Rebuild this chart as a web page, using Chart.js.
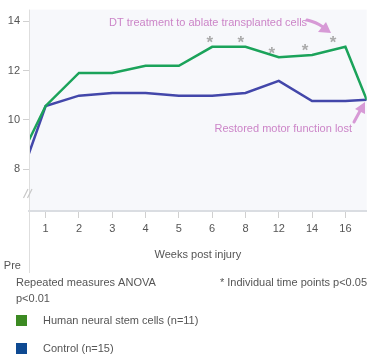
<!DOCTYPE html>
<html><head><meta charset="utf-8">
<script src="https://cdn.jsdelivr.net/npm/chart.js@4"></script>
<style>html,body{margin:0;padding:0;background:#fff}#wrap{width:383px;height:362px}</style>
</head><body><div id="wrap"><canvas id="c" width="383" height="362"></canvas></div>
<script>
const categories = ['Pre', '1', '2', '3', '4', '5', '6', '8', '12', '14', '16', ''];
const weekIndex = [0, 1, 2, 3, 4, 5, 6, 7, 8, 9, 10, 10.64];
const stemCells = [7.8, 10.56, 11.9, 11.9, 12.19, 12.19, 12.96, 12.96, 12.54, 12.63, 12.96, 10.81];
const control = [6.72, 10.56, 10.98, 11.09, 11.09, 10.98, 10.98, 11.09, 11.58, 10.76, 10.76, 10.81];
const yTicks = [8, 10, 12, 14];
const starX = [5.93, 6.86, 7.79, 8.79, 9.63];
const starY = [13.25, 13.25, 12.83, 12.96, 13.25];

const FONT = '"Liberation Sans", Arial, sans-serif';
const pts = arr => arr.map((v, i) => ({x: weekIndex[i], y: v}));

const extras = {
  id: 'extras',
  beforeDraw(chart) {
    const {ctx, chartArea: a} = chart;
    ctx.save();
    ctx.fillStyle = '#f7f8fb';
    ctx.fillRect(a.left, a.top, a.right - a.left, a.bottom - a.top);
    ctx.restore();
  },
  afterDraw(chart) {
    const {ctx, chartArea: a, scales: {x, y}} = chart;
    ctx.save();
    ctx.strokeStyle = '#dedede'; ctx.lineWidth = 1;
    ctx.beginPath(); ctx.moveTo(a.left + 0.5, a.top); ctx.lineTo(a.left + 0.5, 273); ctx.stroke();
    ctx.strokeStyle = '#c8c8c8'; ctx.lineWidth = 1.2;
    ctx.beginPath();
    ctx.moveTo(23.5, 198); ctx.lineTo(28, 189);
    ctx.moveTo(27.5, 198); ctx.lineTo(32, 189);
    ctx.stroke();
    ctx.fillStyle = '#555'; ctx.font = '11px ' + FONT;
    ctx.textAlign = 'center'; ctx.textBaseline = 'middle';
    ctx.fillText(categories[0], x.getPixelForValue(weekIndex[0]), 266);
    ctx.fillText('Weeks post injury', (a.left + a.right) / 2, 255);
    ctx.fillStyle = '#ababab'; ctx.font = 'bold 17px ' + FONT;
    starX.forEach((sx, i) => {
      ctx.fillText('*', x.getPixelForValue(sx), y.getPixelForValue(starY[i]) + 4);
    });
    const pink = '#cc85c8';
    ctx.fillStyle = pink; ctx.font = '11px ' + FONT;
    ctx.textAlign = 'left';
    ctx.fillText('DT treatment to ablate transplanted cells', 109, 23);
    ctx.textAlign = 'right';
    ctx.fillText('Restored motor function lost', 352, 129);
    ctx.strokeStyle = '#d79ad6'; ctx.fillStyle = '#d79ad6'; ctx.lineWidth = 3; ctx.lineCap = 'round';
    ctx.beginPath(); ctx.moveTo(307, 20); ctx.quadraticCurveTo(316, 22, 323, 27); ctx.stroke();
    ctx.beginPath(); ctx.moveTo(331, 33); ctx.lineTo(318, 32); ctx.lineTo(326, 22); ctx.closePath(); ctx.fill();
    ctx.beginPath(); ctx.moveTo(354, 122); ctx.lineTo(360, 111); ctx.stroke();
    ctx.beginPath(); ctx.moveTo(365, 102); ctx.lineTo(365, 114); ctx.lineTo(355, 109); ctx.closePath(); ctx.fill();
    ctx.fillStyle = '#555'; ctx.font = '11px ' + FONT; ctx.textAlign = 'left';
    ctx.fillText('Repeated measures ANOVA', 16, 283);
    ctx.fillText('p<0.01', 16, 299);
    ctx.textAlign = 'right';
    ctx.fillText('* Individual time points p<0.05', 367, 283);
    const leg = [['Human neural stem cells (n=11)', '#3c8a22', 321], ['Control (n=15)', '#0e4a92', 349]];
    ctx.textAlign = 'left';
    leg.forEach(([t, c, yy]) => {
      ctx.fillStyle = c; ctx.fillRect(16, yy - 6, 11, 11);
      ctx.fillStyle = '#555'; ctx.fillText(t, 43, yy);
    });
    ctx.restore();
  }
};

new Chart(document.getElementById('c'), {
  type: 'line',
  data: {
    datasets: [
      {label: 'Human neural stem cells (n=11)', data: pts(stemCells), borderColor: '#1ba35a', borderWidth: 2.5, pointRadius: 0, tension: 0, clip: 0},
      {label: 'Control (n=15)', data: pts(control), borderColor: '#4347aa', borderWidth: 2.5, pointRadius: 0, tension: 0, clip: 0}
    ]
  },
  options: {
    responsive: false, animation: false,
    layout: {padding: {top: 5, right: 16.3, bottom: 121, left: 0}},
    plugins: {legend: {display: false}, tooltip: {enabled: false}},
    scales: {
      x: {
        type: 'linear', min: 0.5, max: 10.64,
        afterBuildTicks: s => { s.ticks = weekIndex.slice(1, 11).map(v => ({value: v})); },
        afterFit: s => { s.height = 30; },
        ticks: {callback: v => categories[weekIndex.indexOf(v)], color: '#555', font: {size: 11, family: FONT}, padding: 4, maxRotation: 0, autoSkip: false},
        grid: {drawOnChartArea: false, tickLength: 7, color: '#d0d0d0'},
        border: {color: '#dadde2', width: 2}
      },
      y: {
        min: 6.3, max: 14.47,
        afterBuildTicks: s => { s.ticks = yTicks.map(v => ({value: v})); },
        afterFit: s => { s.width = 29; },
        ticks: {color: '#555', font: {size: 11, family: FONT}, padding: 3},
        grid: {drawOnChartArea: false, tickLength: 6, color: '#d0d0d0'},
        border: {display: false}
      }
    }
  },
  plugins: [extras]
});
</script></body></html>
